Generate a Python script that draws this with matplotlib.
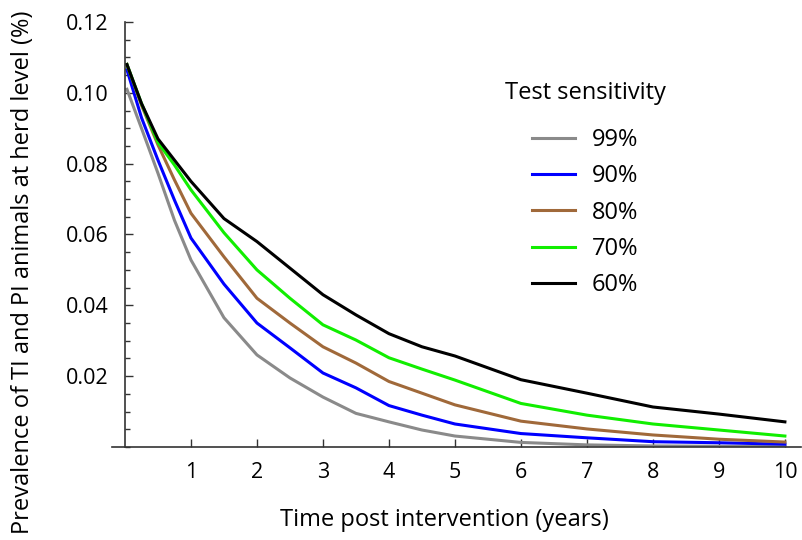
import matplotlib
matplotlib.use("Agg")
import matplotlib.pyplot as plt
from matplotlib.ticker import MultipleLocator

plt.rcParams['font.family'] = ['Open Sans', 'DejaVu Sans']

# time post intervention (years)
years = [0.03, 0.25, 0.5, 0.75, 1, 1.5, 2, 2.5, 3, 3.5, 4, 4.5, 5, 6, 7, 8, 9, 10]

# prevalence per test sensitivity
sens_99 = [0.101, 0.090, 0.0773, 0.064, 0.0528, 0.0365, 0.026, 0.0195, 0.0141, 0.0095,
           0.0071, 0.0048, 0.0031, 0.0013, 0.0006, 0.0003, 0.0002, 0.0001]
sens_90 = [0.1065, 0.093, 0.081, 0.0697, 0.059, 0.046, 0.035, 0.028, 0.0209, 0.0167,
           0.0117, 0.009, 0.0065, 0.0038, 0.0026, 0.0015, 0.0012, 0.0008]
sens_80 = [0.108, 0.0965, 0.0853, 0.0754, 0.066, 0.0537, 0.042, 0.035, 0.0283, 0.0237,
           0.0185, 0.0152, 0.0119, 0.0073, 0.0051, 0.0034, 0.0022, 0.0014]
sens_70 = [0.108, 0.097, 0.086, 0.0796, 0.0726, 0.0605, 0.050, 0.042, 0.0345, 0.0302,
           0.0252, 0.022, 0.0189, 0.0123, 0.009, 0.0065, 0.0048, 0.0031]
sens_60 = [0.108, 0.097, 0.087, 0.081, 0.075, 0.0645, 0.058, 0.0505, 0.043, 0.0373,
           0.032, 0.0283, 0.0257, 0.019, 0.0152, 0.0113, 0.0093, 0.0071]

labels = ["99%", "90%", "80%", "70%", "60%"]
colors = ["#8a8a8a", "#0000ff", "#a0693a", "#11ee00", "#000000"]
series = [sens_99, sens_90, sens_80, sens_70, sens_60]

fig = plt.figure(figsize=(8.03, 5.40), dpi=100)
ax = fig.add_axes([0.1392, 0.1722, 0.8588, 0.7871])

for vals, lab, col in zip(series, labels, colors):
    ax.plot(years, vals, color=col, lw=2.2, label=lab)

ax.set_xlim(-0.2, 10.25)
ax.set_ylim(0, 0.12)

ax.spines['top'].set_visible(False)
ax.spines['right'].set_visible(False)
ax.spines['left'].set_position(('data', 0))
ax.spines['left'].set_bounds(0, 0.12)
for s in ['left', 'bottom']:
    ax.spines[s].set_color('#333333')
    ax.spines[s].set_linewidth(1.2)

ax.set_xticks(range(1, 11))
ax.set_yticks([0.02, 0.04, 0.06, 0.08, 0.10, 0.12])
ax.set_yticklabels(["0.02", "0.04", "0.06", "0.08", "0.10", "0.12"])
ax.yaxis.set_minor_locator(MultipleLocator(0.005))
ax.tick_params(axis='both', which='major', direction='in', length=5.5,
               width=1.0, color='#333333', labelsize=15.5)
ax.tick_params(axis='y', which='minor', direction='in', length=3.5,
               width=1.0, color='#333333')
ax.tick_params(axis='y', which='major', pad=12)
ax.tick_params(axis='x', which='major', pad=11)

ax.set_xlabel("Time post intervention (years)", fontsize=17)
ax.xaxis.set_label_coords(0.483, -0.143)
ax.set_ylabel("Prevalence of TI and PI animals at herd level (%)", fontsize=17)
ax.yaxis.set_label_coords(-0.111, 0.412)

leg = ax.legend(title="Test sensitivity", frameon=False, fontsize=17,
                title_fontsize=17, loc='upper left',
                bbox_to_anchor=(493 / 803, 1 - 69 / 540),
                bbox_transform=fig.transFigure, borderpad=0,
                handlelength=1.82, handletextpad=0.72, labelspacing=0.52)
leg._legend_box.align = "center"
leg._legend_box.sep = 16.7

fig.savefig("out.png", dpi=100)
